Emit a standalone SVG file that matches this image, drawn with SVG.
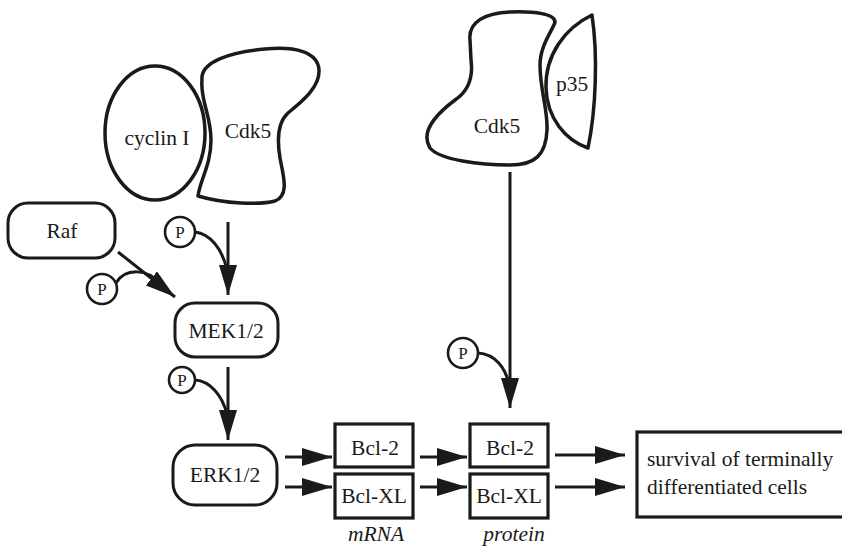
<svg xmlns="http://www.w3.org/2000/svg" width="842" height="550" viewBox="0 0 842 550">
<defs>
<style>
.t{font-family:"Liberation Serif","Times New Roman",serif;font-size:21.5px;fill:#1a1a1a;text-anchor:middle}
.p{font-family:"Liberation Serif","Times New Roman",serif;font-size:17px;fill:#1a1a1a;text-anchor:middle}
.it{font-style:italic}
.blob{fill:#fff;stroke:#1a1a1a;stroke-width:3.5;stroke-linejoin:round}
.box{fill:#fff;stroke:#1a1a1a;stroke-width:3}
.sq{fill:#fff;stroke:#1a1a1a;stroke-width:3.2}
.pc{fill:#fff;stroke:#1a1a1a;stroke-width:2.6}
.ln{fill:none;stroke:#1a1a1a;stroke-width:3}
</style>
<marker id="ah" markerUnits="userSpaceOnUse" markerWidth="30" markerHeight="18" refX="30" refY="9" orient="auto">
<path d="M0,0 L30,9 L0,18 Z" fill="#1a1a1a"/>
</marker>
</defs>
<rect width="842" height="550" fill="#fff"/>

<g id="cyclinI">
<ellipse class="blob" cx="155" cy="133" rx="50" ry="67"/>
<text class="t" x="157" y="145">cyclin I</text>
</g>
<g id="cdk5-left">
<path class="blob" d="M202,80 C200,62 230,52 265,49 C295,46 318,52 319,70 C320,88 300,103 288,113 C278,122 277,140 280,158 C283,175 290,195 275,201 C260,205 225,204 198,196 C200,180 211,165 211,140 C211,115 200,100 202,80 Z"/>
<text class="t" x="248" y="138">Cdk5</text>
</g>
<g id="cdk5-right">
<path class="blob" d="M470,40 C468,22 485,13 510,12 C535,11 555,14 555,22 C553,30 540,45 540,65 C540,90 548,110 547,130 C546,155 535,165 510,165 C480,165 440,160 430,148 C420,132 435,115 455,100 C470,90 473,75 471,60 Z"/>
<text class="t" x="497" y="133">Cdk5</text>
</g>
<g id="p35">
<path class="blob" d="M592,15 C565,28 545,55 546,88 C547,118 565,140 588,148 C596,110 598,55 592,15 Z"/>
<text class="t" x="572" y="91">p35</text>
</g>
<g id="raf">
<rect class="box" x="8" y="203" width="107" height="55" rx="20"/>
<text class="t" x="62" y="238">Raf</text>
</g>
<g id="mek">
<rect class="box" x="175" y="303" width="103" height="54" rx="20"/>
<text class="t" x="226" y="338">MEK1/2</text>
</g>
<g id="erk">
<rect class="box" x="173" y="445" width="104" height="60" rx="22"/>
<text class="t" x="225" y="482">ERK1/2</text>
</g>
<g id="bcl2-mrna">
<rect class="sq" x="335" y="424" width="78" height="43"/>
<text class="t" x="375" y="455">Bcl-2</text>
</g>
<g id="bclxl-mrna">
<rect class="sq" x="335" y="474" width="78" height="44"/>
<text class="t" x="374" y="503">Bcl-XL</text>
</g>
<g id="bcl2-protein">
<rect class="sq" x="470" y="424" width="78" height="43"/>
<text class="t" x="510" y="455">Bcl-2</text>
</g>
<g id="bclxl-protein">
<rect class="sq" x="470" y="474" width="78" height="44"/>
<text class="t" x="509" y="503">Bcl-XL</text>
</g>
<g id="labels">
<text class="t it" x="376" y="541">mRNA</text>
<text class="t it" x="514" y="541">protein</text>
</g>
<g id="survival">
<rect class="sq" x="637" y="432" width="210" height="85"/>
<text class="t" x="647" y="466" style="text-anchor:start">survival of terminally</text>
<text class="t" x="647" y="494" style="text-anchor:start">differentiated cells</text>
</g>

<g id="connectors">
<line class="ln" x1="118" y1="252" x2="175" y2="297" marker-end="url(#ah)"/>
<path class="ln" d="M116,283 C125,268 148,268 160,284"/>
<line class="ln" x1="228" y1="222" x2="228" y2="295" marker-end="url(#ah)"/>
<path class="ln" d="M195,232 C210,234 222,248 227,270"/>
<line class="ln" x1="228" y1="367" x2="228" y2="440" marker-end="url(#ah)"/>
<path class="ln" d="M195,380 C210,381 222,395 227,414"/>
<line class="ln" x1="510" y1="172" x2="510" y2="408" marker-end="url(#ah)"/>
<path class="ln" d="M478,353 C495,354 506,368 509,385"/>
<line class="ln" x1="285" y1="457" x2="332" y2="457" marker-end="url(#ah)"/>
<line class="ln" x1="285" y1="487" x2="332" y2="487" marker-end="url(#ah)"/>
<line class="ln" x1="420" y1="457" x2="467" y2="457" marker-end="url(#ah)"/>
<line class="ln" x1="420" y1="487" x2="467" y2="487" marker-end="url(#ah)"/>
<line class="ln" x1="555" y1="455" x2="625" y2="455" marker-end="url(#ah)"/>
<line class="ln" x1="555" y1="487" x2="625" y2="487" marker-end="url(#ah)"/>
</g>

<g id="p-raf">
<circle class="pc" cx="102" cy="289" r="15"/>
<text class="p" x="102" y="295">P</text>
</g>
<g id="p-mek">
<circle class="pc" cx="180" cy="232" r="15"/>
<text class="p" x="180" y="238">P</text>
</g>
<g id="p-erk">
<circle class="pc" cx="182" cy="380" r="13"/>
<text class="p" x="182" y="386">P</text>
</g>
<g id="p-bcl">
<circle class="pc" cx="463" cy="353" r="15"/>
<text class="p" x="463" y="359">P</text>
</g>
</svg>
